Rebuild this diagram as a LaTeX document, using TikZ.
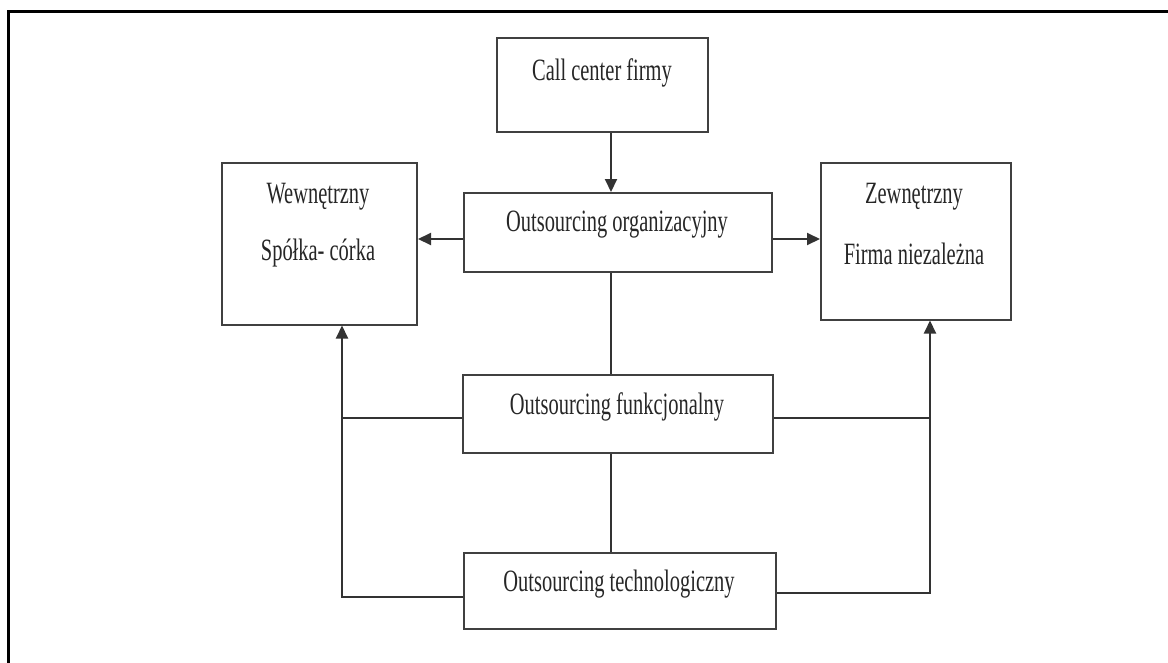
\documentclass[tikz,border=0pt]{standalone}
\usepackage{fontspec}
\setmainfont{Liberation Serif}[FakeStretch=0.66]
\usetikzlibrary{arrows.meta}
\begin{document}
\begin{tikzpicture}[x=1pt,y=-1pt,
  box/.style={draw=black!75,line width=2pt,inner sep=0pt,fill=white},
  txt/.style={inner sep=0pt,font=\fontsize{31}{37}\selectfont,text=black!85},
  link/.style={draw=black!80,line width=2pt},
  arr/.style={link,-{Triangle[length=13pt,width=12pt]}}]
  \useasboundingbox (0,0) rectangle (1168,662);
  % outer frame (top and left edges)
  \draw[line width=3pt,line cap=rect] (1168,11) -- (8,11) -- (8,662);

  % boxes
  \node[box,minimum width=211pt,minimum height=94pt] (call) at (602.5,85) {};
  \node[box,minimum width=308pt,minimum height=79pt] (org) at (618,232.5) {};
  \node[box,minimum width=195pt,minimum height=162pt] (wew) at (319.5,243.5) {};
  \node[box,minimum width=190pt,minimum height=157pt] (zew) at (916,241) {};
  \node[box,minimum width=310pt,minimum height=78pt] (fun) at (618,413.5) {};
  \node[box,minimum width=312pt,minimum height=76pt] (tech) at (620,591) {};

  % texts
  \node[txt] (callT) at (602,73) {Call center firmy};
  \node[txt] (orgT) at (617,225) {Outsourcing organizacyjny};
  \node[txt] (wewA) at (318,197) {Wewnętrzny};
  \node[txt] (wewB) at (318,253) {Spółka- córka};
  \node[txt] (zewA) at (914,197) {Zewnętrzny};
  \node[txt] (zewB) at (914,254) {Firma niezależna};
  \node[txt] (funT) at (617,407) {Outsourcing funkcjonalny};
  \node[txt] (techT) at (619,584) {Outsourcing technologiczny};

  % guide coordinates for the connector lines
  \coordinate (cx) at (611,0);
  \coordinate (lx) at (342,0);
  \coordinate (rx) at (930,0);
  \coordinate (ya) at (0,239);
  \coordinate (yf) at (0,418);
  \coordinate (ylb) at (0,597);
  \coordinate (yrb) at (0,593);

  % connectors
  \draw[arr] (call.south -| cx) -- (org.north -| cx);
  \draw[arr] (org.west |- ya) -- (wew.east |- ya);
  \draw[arr] (org.east |- ya) -- (zew.west |- ya);
  \draw[link] (org.south -| cx) -- (fun.north -| cx);
  \draw[link] (fun.south -| cx) -- (tech.north -| cx);
  \draw[link] (fun.west |- yf) -- (lx |- yf);
  \draw[link] (fun.east |- yf) -- (rx |- yf);
  \draw[arr] (tech.west |- ylb) -- (lx |- ylb) -- (wew.south -| lx);
  \draw[arr] (tech.east |- yrb) -- (rx |- yrb) -- (zew.south -| rx);
\end{tikzpicture}
\end{document}
